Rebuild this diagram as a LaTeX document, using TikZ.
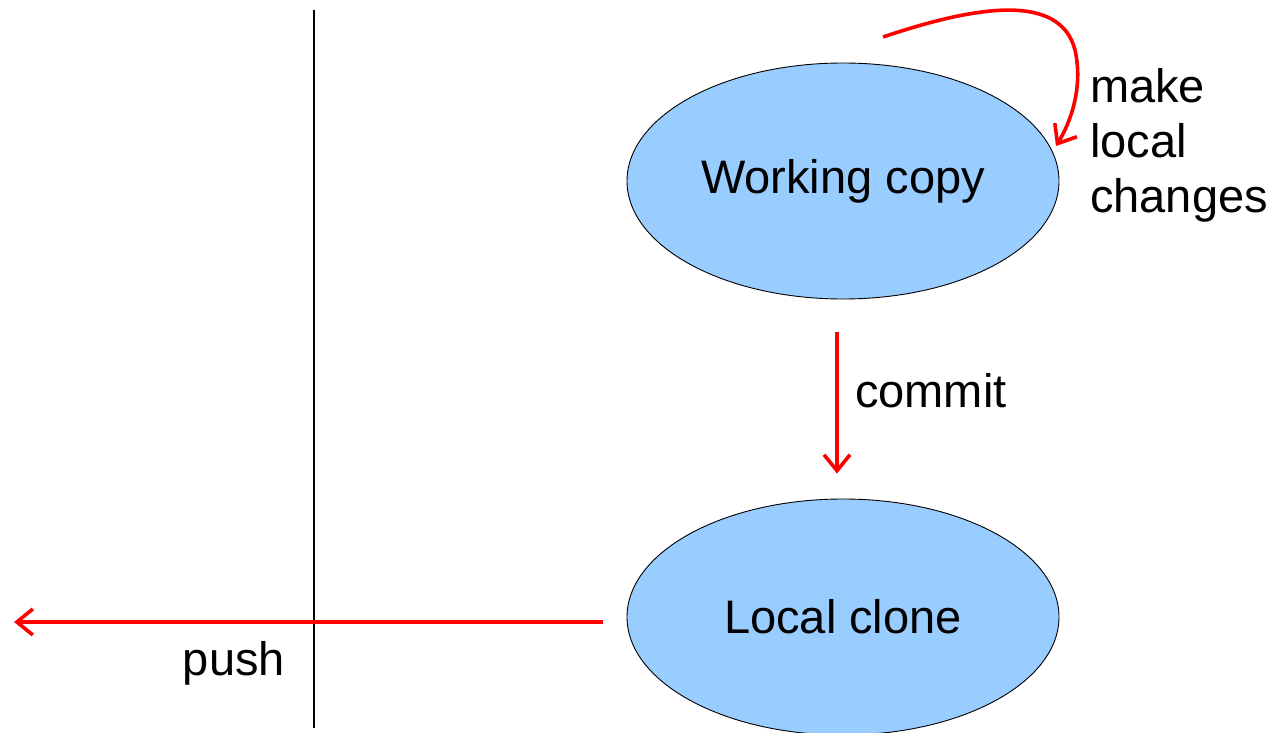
\documentclass[tikz,border=0pt]{standalone}
\usepackage{fontspec}
\setmainfont{Liberation Sans}
\usetikzlibrary{arrows.meta,shapes.geometric,calc}
\begin{document}
\begin{tikzpicture}[x=1pt,y=-1pt,
  store/.style={ellipse, draw=black, line width=0.9pt, fill=storeblue,
    minimum width=432pt, minimum height=236pt, inner sep=0pt,
    font=\fontsize{47}{55}\selectfont},
  lbl/.style={font=\fontsize{47}{55}\selectfont, inner sep=0pt},
  flow/.style={draw=red, line width=3.6pt,
    -{Straight Barb[length=16pt, width=26pt, line width=3.6pt]}}]
\definecolor{storeblue}{HTML}{99CCFF}
\useasboundingbox (0,0) rectangle (1278,733);
\clip (0,0) rectangle (1278,733);

% divider between local and remote side
\coordinate (divtop) at (314,10);
\coordinate (divbot) at (314,728);
\draw[line width=1.3pt] (divtop) -- (divbot);

% the two local stores
\node[store] (work)  at (843,181) {Working copy};
\node[store] (clone) at (843,617) {Local clone};

% edit loop on the working copy
\coordinate (editstart) at (883,37);
\draw[flow] (editstart) .. controls (975,6) and (1060,-8) .. (1075,50)
  .. controls (1083,85) and (1072,120) .. (1056,146);
\node[lbl, anchor=west, align=left] (edit) at (1090,145) {make\\local\\changes};

% commit from working copy into the clone
\draw[flow, shorten <=33pt, shorten >=25pt]
  ($(work.south)+(-6,0)$) -- ($(clone.north)+(-6,0)$);
\node[lbl, anchor=west] (commit) at (855,391) {commit};

% push out to the remote side
\coordinate (remote) at (14,622);
\draw[flow, shorten <=24pt] (clone.west |- remote) -- (remote);
\node[lbl, anchor=east] (push) at (285,663) {push};
\end{tikzpicture}
\end{document}
